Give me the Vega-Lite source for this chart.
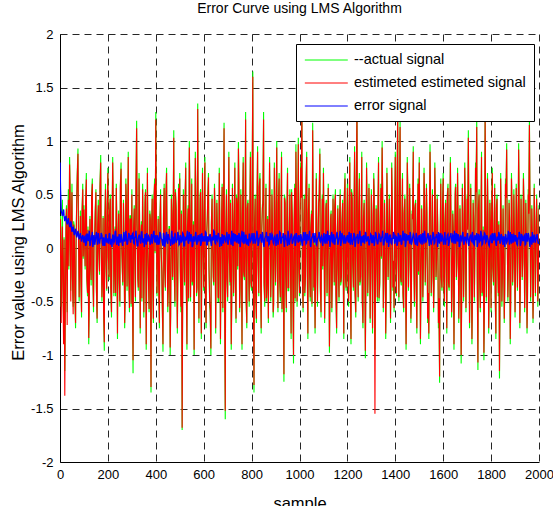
{
"$schema":"https://vega.github.io/schema/vega-lite/v6.json",
"width":479,"height":428,
"autosize":{"type":"none"},
"padding":{"left":60,"top":34,"right":14,"bottom":44},
"background":"white",
"title":{"text":"Error Curve using LMS Algorithm","font":"Liberation Sans","fontSize":14,"fontWeight":"normal","color":"black","offset":12,"anchor":"middle"},
"data":{"values":[
{"s":0,"a":0.05,"r":-0.1,"e":0.8},{"s":5,"a":-0.55,"r":-0.7,"e":0.35},{"s":10,"a":0.45,"r":0.2,"e":0.3},{"s":15,"a":-0.7,"r":-0.9,"e":0.36},{"s":20,"a":-1.15,"r":-1.38,"e":0.25},{"s":25,"a":0.3,"r":0.15,"e":0.3},{"s":30,"a":-0.6,"r":-0.72,"e":0.22},{"s":35,"a":0.55,"r":0.45,"e":0.28},{"s":40,"a":0.85,"r":0.78,"e":0.2},{"s":45,"a":-0.4,"r":-0.5,"e":0.25},{"s":50,"a":0.6,"r":0.52,"e":0.15},{"s":55,"a":-0.55,"r":-0.62,"e":0.2},{"s":60,"a":0.2,"r":0.12,"e":0.12},{"s":65,"a":-0.75,"r":-0.7,"e":0.18},{"s":70,"a":0.5,"r":0.45,"e":0.1},{"s":75,"a":0.93,"r":0.88,"e":0.16},{"s":80,"a":-0.5,"r":-0.46,"e":0.08},{"s":85,"a":0.35,"r":0.3,"e":0.14},{"s":90,"a":-0.65,"r":-0.6,"e":0.06},{"s":95,"a":0.6,"r":0.55,"e":0.12},
{"s":100,"a":0.4,"r":0.36,"e":0.05},{"s":105,"a":-0.2,"r":-0.17,"e":0.11},{"s":110,"a":0.7,"r":0.64,"e":0.04},{"s":115,"a":-0.45,"r":-0.42,"e":0.13},{"s":120,"a":-0.9,"r":-0.84,"e":0.07},{"s":125,"a":0.3,"r":0.27,"e":0.02},{"s":130,"a":-0.35,"r":-0.3,"e":0.1},{"s":135,"a":0.65,"r":0.6,"e":0.15},{"s":140,"a":-0.6,"r":-0.55,"e":0.06},{"s":145,"a":0.15,"r":0.12,"e":0.03},{"s":150,"a":0.55,"r":0.52,"e":0.12},{"s":155,"a":-0.7,"r":-0.66,"e":0.08},{"s":160,"a":0.45,"r":0.4,"e":0.14},{"s":165,"a":-0.25,"r":-0.22,"e":0.04},{"s":170,"a":0.87,"r":0.8,"e":0.09},{"s":175,"a":-0.5,"r":-0.46,"e":0.12},{"s":180,"a":0.3,"r":0.28,"e":0.02},{"s":185,"a":-0.96,"r":-0.88,"e":0.07},{"s":190,"a":0.6,"r":0.55,"e":0.11},{"s":195,"a":-0.4,"r":-0.38,"e":0.05},
{"s":200,"a":0.75,"r":0.7,"e":0.09},{"s":205,"a":-0.3,"r":-0.27,"e":0.13},{"s":210,"a":0.5,"r":0.46,"e":0.03},{"s":215,"a":-0.65,"r":-0.6,"e":0.08},{"s":220,"a":0.85,"r":0.8,"e":0.12},{"s":225,"a":-0.45,"r":-0.42,"e":0.05},{"s":230,"a":0.2,"r":0.18,"e":0.15},{"s":235,"a":0.6,"r":0.56,"e":0.06},{"s":240,"a":-0.85,"r":-0.8,"e":0.1},{"s":245,"a":0.35,"r":0.32,"e":0.02},{"s":250,"a":-0.55,"r":-0.5,"e":0.07},{"s":255,"a":0.8,"r":0.74,"e":0.13},{"s":260,"a":-0.2,"r":-0.18,"e":0.04},{"s":265,"a":0.45,"r":0.42,"e":0.11},{"s":270,"a":-0.75,"r":-0.7,"e":0.06},{"s":275,"a":0.65,"r":0.6,"e":0.16},{"s":280,"a":-0.4,"r":-0.36,"e":0.03},{"s":285,"a":0.9,"r":0.85,"e":0.09},{"s":290,"a":-0.6,"r":-0.56,"e":0.12},{"s":295,"a":0.3,"r":0.27,"e":0.05},
{"s":300,"a":0.55,"r":0.5,"e":0.08},{"s":305,"a":-1.17,"r":-1.05,"e":0.14},{"s":310,"a":0.4,"r":0.37,"e":0.04},{"s":315,"a":-0.5,"r":-0.46,"e":0.1},{"s":320,"a":1.19,"r":1.12,"e":0.07},{"s":325,"a":-0.3,"r":-0.28,"e":0.02},{"s":330,"a":0.7,"r":0.65,"e":0.12},{"s":335,"a":-0.8,"r":-0.75,"e":0.06},{"s":340,"a":0.25,"r":0.22,"e":0.15},{"s":345,"a":0.6,"r":0.55,"e":0.05},{"s":350,"a":-0.65,"r":-0.6,"e":0.09},{"s":355,"a":0.45,"r":0.42,"e":0.13},{"s":360,"a":-0.95,"r":-0.9,"e":0.03},{"s":365,"a":0.75,"r":0.7,"e":0.08},{"s":370,"a":-0.4,"r":-0.37,"e":0.11},{"s":375,"a":0.35,"r":0.32,"e":0.06},{"s":380,"a":-1.35,"r":-1.3,"e":0.1},{"s":385,"a":0.5,"r":0.46,"e":0.04},{"s":390,"a":-0.7,"r":-0.66,"e":0.14},{"s":395,"a":0.65,"r":0.6,"e":0.07},
{"s":400,"a":1.27,"r":1.2,"e":0.12},{"s":405,"a":-0.45,"r":-0.42,"e":0.03},{"s":410,"a":0.3,"r":0.27,"e":0.09},{"s":415,"a":-0.75,"r":-0.7,"e":0.05},{"s":420,"a":0.55,"r":0.5,"e":0.13},{"s":425,"a":-0.25,"r":-0.22,"e":0.08},{"s":430,"a":-0.97,"r":-0.9,"e":0.02},{"s":435,"a":0.6,"r":0.56,"e":0.11},{"s":440,"a":-0.4,"r":-0.37,"e":0.06},{"s":445,"a":0.75,"r":0.7,"e":0.15},{"s":450,"a":-0.6,"r":-0.55,"e":0.04},{"s":455,"a":0.2,"r":0.18,"e":0.1},{"s":460,"a":-1.0,"r":-0.93,"e":0.07},{"s":465,"a":0.5,"r":0.46,"e":0.12},{"s":470,"a":-0.3,"r":-0.27,"e":0.03},{"s":475,"a":1.1,"r":1.03,"e":0.09},{"s":480,"a":-0.55,"r":-0.5,"e":0.14},{"s":485,"a":0.4,"r":0.37,"e":0.05},{"s":490,"a":-0.8,"r":-0.75,"e":0.08},{"s":495,"a":0.6,"r":0.56,"e":0.11},
{"s":500,"a":0.7,"r":0.65,"e":0.04},{"s":505,"a":-0.6,"r":-0.55,"e":0.1},{"s":510,"a":-1.7,"r":-1.68,"e":0.07},{"s":515,"a":0.55,"r":0.5,"e":0.13},{"s":520,"a":-0.35,"r":-0.32,"e":0.02},{"s":525,"a":0.8,"r":0.75,"e":0.09},{"s":530,"a":-0.95,"r":-0.9,"e":0.12},{"s":535,"a":0.4,"r":0.37,"e":0.05},{"s":540,"a":1.0,"r":0.94,"e":0.15},{"s":545,"a":-0.5,"r":-0.46,"e":0.06},{"s":550,"a":0.65,"r":0.6,"e":0.1},{"s":555,"a":-0.3,"r":-0.27,"e":0.03},{"s":560,"a":-1.0,"r":-0.95,"e":0.08},{"s":565,"a":0.9,"r":0.84,"e":0.12},{"s":570,"a":-0.45,"r":-0.42,"e":0.05},{"s":575,"a":1.35,"r":1.3,"e":0.1},{"s":580,"a":-0.7,"r":-0.66,"e":0.07},{"s":585,"a":0.5,"r":0.46,"e":0.13},{"s":590,"a":-0.85,"r":-0.8,"e":0.04},{"s":595,"a":0.75,"r":0.7,"e":0.09},
{"s":600,"a":-0.4,"r":-0.37,"e":0.11},{"s":605,"a":0.85,"r":0.8,"e":0.06},{"s":610,"a":-0.75,"r":-0.7,"e":0.14},{"s":615,"a":0.3,"r":0.27,"e":0.03},{"s":620,"a":0.7,"r":0.66,"e":0.09},{"s":625,"a":-0.55,"r":-0.5,"e":0.12},{"s":630,"a":-1.0,"r":-0.94,"e":0.05},{"s":635,"a":0.5,"r":0.46,"e":0.1},{"s":640,"a":-0.3,"r":-0.27,"e":0.07},{"s":645,"a":0.6,"r":0.56,"e":0.15},{"s":650,"a":-0.8,"r":-0.75,"e":0.04},{"s":655,"a":0.45,"r":0.42,"e":0.08},{"s":660,"a":-0.5,"r":-0.46,"e":0.13},{"s":665,"a":0.75,"r":0.7,"e":0.06},{"s":670,"a":-0.9,"r":-0.85,"e":0.1},{"s":675,"a":0.35,"r":0.32,"e":0.02},{"s":680,"a":-0.6,"r":-0.56,"e":0.09},{"s":685,"a":1.17,"r":1.12,"e":0.12},{"s":690,"a":-1.6,"r":-1.52,"e":0.07},{"s":695,"a":0.55,"r":0.5,"e":0.11},
{"s":700,"a":-0.5,"r":-0.46,"e":0.05},{"s":705,"a":0.9,"r":0.85,"e":0.13},{"s":710,"a":-0.35,"r":-0.32,"e":0.08},{"s":715,"a":-0.95,"r":-0.9,"e":0.03},{"s":720,"a":0.6,"r":0.56,"e":0.1},{"s":725,"a":-0.45,"r":-0.42,"e":0.14},{"s":730,"a":0.8,"r":0.75,"e":0.06},{"s":735,"a":-0.7,"r":-0.66,"e":0.09},{"s":740,"a":0.4,"r":0.37,"e":0.12},{"s":745,"a":0.99,"r":0.93,"e":0.04},{"s":750,"a":-0.6,"r":-0.56,"e":0.11},{"s":755,"a":0.55,"r":0.5,"e":0.07},{"s":760,"a":-0.95,"r":-0.9,"e":0.16},{"s":765,"a":0.85,"r":0.8,"e":0.05},{"s":770,"a":-0.3,"r":-0.27,"e":0.09},{"s":775,"a":1.27,"r":1.2,"e":0.12},{"s":780,"a":-0.75,"r":-0.7,"e":0.03},{"s":785,"a":0.45,"r":0.42,"e":0.08},{"s":790,"a":-0.55,"r":-0.5,"e":0.13},{"s":795,"a":0.9,"r":0.85,"e":0.06},
{"s":800,"a":-0.4,"r":-0.37,"e":0.1},{"s":805,"a":1.65,"r":1.6,"e":0.07},{"s":810,"a":-1.35,"r":-1.28,"e":0.14},{"s":815,"a":0.5,"r":0.46,"e":0.04},{"s":820,"a":-0.7,"r":-0.66,"e":0.09},{"s":825,"a":0.95,"r":0.9,"e":0.12},{"s":830,"a":-0.45,"r":-0.42,"e":0.05},{"s":835,"a":0.7,"r":0.65,"e":0.1},{"s":840,"a":-0.8,"r":-0.75,"e":0.07},{"s":845,"a":0.4,"r":0.37,"e":0.15},{"s":850,"a":1.27,"r":1.2,"e":0.03},{"s":855,"a":-0.55,"r":-0.5,"e":0.09},{"s":860,"a":0.6,"r":0.56,"e":0.12},{"s":865,"a":-0.3,"r":-0.27,"e":0.06},{"s":870,"a":-0.7,"r":-0.66,"e":0.11},{"s":875,"a":0.85,"r":0.8,"e":0.04},{"s":880,"a":-0.5,"r":-0.46,"e":0.08},{"s":885,"a":0.55,"r":0.5,"e":0.13},{"s":890,"a":-0.65,"r":-0.6,"e":0.05},{"s":895,"a":0.8,"r":0.75,"e":0.1},
{"s":900,"a":-0.35,"r":-0.32,"e":0.07},{"s":905,"a":1.0,"r":0.94,"e":0.12},{"s":910,"a":-0.6,"r":-0.56,"e":0.03},{"s":915,"a":0.7,"r":0.65,"e":0.09},{"s":920,"a":-0.5,"r":-0.46,"e":0.14},{"s":925,"a":0.9,"r":0.85,"e":0.06},{"s":930,"a":-0.3,"r":-0.27,"e":0.1},{"s":935,"a":-1.25,"r":-1.18,"e":0.05},{"s":940,"a":0.45,"r":0.42,"e":0.12},{"s":945,"a":-0.6,"r":-0.56,"e":0.08},{"s":950,"a":0.75,"r":0.7,"e":0.02},{"s":955,"a":-0.4,"r":-0.37,"e":0.11},{"s":960,"a":0.55,"r":0.5,"e":0.07},{"s":965,"a":-0.85,"r":-0.8,"e":0.13},{"s":970,"a":0.3,"r":0.27,"e":0.04},{"s":975,"a":-1.08,"r":-1.0,"e":0.09},{"s":980,"a":0.6,"r":0.56,"e":0.12},{"s":985,"a":0.97,"r":0.9,"e":0.06},{"s":990,"a":-0.55,"r":-0.5,"e":0.1},{"s":995,"a":1.03,"r":0.97,"e":0.05},
{"s":1000,"a":-0.45,"r":-0.42,"e":0.08},{"s":1005,"a":0.8,"r":0.75,"e":0.13},{"s":1010,"a":1.4,"r":1.33,"e":0.04},{"s":1015,"a":-0.6,"r":-0.56,"e":0.1},{"s":1020,"a":0.5,"r":0.46,"e":0.07},{"s":1025,"a":-0.3,"r":-0.27,"e":0.15},{"s":1030,"a":0.9,"r":0.85,"e":0.05},{"s":1035,"a":-0.85,"r":-0.8,"e":0.09},{"s":1040,"a":0.6,"r":0.56,"e":0.12},{"s":1045,"a":-0.5,"r":-0.46,"e":0.03},{"s":1050,"a":0.35,"r":0.32,"e":0.08},{"s":1055,"a":1.17,"r":1.1,"e":0.11},{"s":1060,"a":-0.4,"r":-0.37,"e":0.06},{"s":1065,"a":-0.8,"r":-0.75,"e":0.14},{"s":1070,"a":0.7,"r":0.65,"e":0.04},{"s":1075,"a":-0.55,"r":-0.5,"e":0.09},{"s":1080,"a":0.45,"r":0.42,"e":0.12},{"s":1085,"a":0.93,"r":0.88,"e":0.07},{"s":1090,"a":-0.65,"r":-0.6,"e":0.1},{"s":1095,"a":0.5,"r":0.46,"e":0.05},
{"s":1100,"a":0.75,"r":0.7,"e":0.11},{"s":1105,"a":-0.7,"r":-0.66,"e":0.06},{"s":1110,"a":0.4,"r":0.37,"e":0.13},{"s":1115,"a":-0.45,"r":-0.42,"e":0.04},{"s":1120,"a":0.6,"r":0.56,"e":0.09},{"s":1125,"a":-0.98,"r":-0.92,"e":0.12},{"s":1130,"a":0.3,"r":0.27,"e":0.07},{"s":1135,"a":-0.6,"r":-0.56,"e":0.15},{"s":1140,"a":0.5,"r":0.46,"e":0.05},{"s":1145,"a":-0.35,"r":-0.32,"e":0.1},{"s":1150,"a":0.55,"r":0.5,"e":0.08},{"s":1155,"a":-0.8,"r":-0.75,"e":0.13},{"s":1160,"a":0.4,"r":0.37,"e":0.03},{"s":1165,"a":-0.5,"r":-0.46,"e":0.09},{"s":1170,"a":0.55,"r":0.5,"e":0.16},{"s":1175,"a":-0.3,"r":-0.27,"e":0.06},{"s":1180,"a":0.45,"r":0.42,"e":0.11},{"s":1185,"a":-0.85,"r":-0.8,"e":0.04},{"s":1190,"a":0.7,"r":0.65,"e":0.1},{"s":1195,"a":-0.4,"r":-0.37,"e":0.07},
{"s":1200,"a":0.6,"r":0.56,"e":0.12},{"s":1205,"a":-0.55,"r":-0.5,"e":0.05},{"s":1210,"a":0.85,"r":0.8,"e":0.09},{"s":1215,"a":-0.9,"r":-0.85,"e":0.14},{"s":1220,"a":0.5,"r":0.46,"e":0.03},{"s":1225,"a":-0.4,"r":-0.37,"e":0.08},{"s":1230,"a":0.95,"r":0.9,"e":0.12},{"s":1235,"a":-0.65,"r":-0.6,"e":0.06},{"s":1240,"a":1.4,"r":1.33,"e":0.1},{"s":1245,"a":-0.5,"r":-0.46,"e":0.04},{"s":1250,"a":0.7,"r":0.65,"e":0.13},{"s":1255,"a":-0.3,"r":-0.27,"e":0.07},{"s":1260,"a":0.9,"r":0.85,"e":0.11},{"s":1265,"a":-0.75,"r":-0.7,"e":0.05},{"s":1270,"a":0.45,"r":0.42,"e":0.09},{"s":1275,"a":-1.03,"r":-0.96,"e":0.15},{"s":1280,"a":0.8,"r":0.75,"e":0.06},{"s":1285,"a":-0.45,"r":-0.42,"e":0.1},{"s":1290,"a":0.6,"r":0.56,"e":0.03},{"s":1295,"a":-0.7,"r":-0.66,"e":0.08},
{"s":1300,"a":0.55,"r":0.5,"e":0.12},{"s":1305,"a":-0.8,"r":-0.75,"e":0.05},{"s":1310,"a":0.7,"r":0.65,"e":0.1},{"s":1315,"a":-0.95,"r":-1.55,"e":0.07},{"s":1320,"a":0.4,"r":0.37,"e":0.13},{"s":1325,"a":-0.5,"r":-0.46,"e":0.04},{"s":1330,"a":0.85,"r":0.8,"e":0.09},{"s":1335,"a":-0.35,"r":-0.32,"e":0.12},{"s":1340,"a":0.6,"r":0.56,"e":0.06},{"s":1345,"a":1.0,"r":0.94,"e":0.1},{"s":1350,"a":-0.6,"r":-0.56,"e":0.03},{"s":1355,"a":0.45,"r":0.42,"e":0.08},{"s":1360,"a":-0.85,"r":-0.8,"e":0.14},{"s":1365,"a":0.75,"r":0.7,"e":0.05},{"s":1370,"a":-0.3,"r":-0.27,"e":0.11},{"s":1375,"a":0.5,"r":0.46,"e":0.07},{"s":1380,"a":-0.7,"r":-0.66,"e":0.12},{"s":1385,"a":0.8,"r":0.75,"e":0.04},{"s":1390,"a":-0.4,"r":-0.37,"e":0.09},{"s":1395,"a":-0.6,"r":-0.56,"e":0.13},
{"s":1400,"a":0.9,"r":0.85,"e":0.06},{"s":1405,"a":-0.45,"r":-0.42,"e":0.1},{"s":1410,"a":1.3,"r":1.24,"e":0.05},{"s":1415,"a":-0.5,"r":-0.46,"e":0.12},{"s":1420,"a":1.2,"r":1.13,"e":0.08},{"s":1425,"a":-0.35,"r":-0.32,"e":0.03},{"s":1430,"a":0.7,"r":0.65,"e":0.11},{"s":1435,"a":-0.6,"r":-0.56,"e":0.07},{"s":1440,"a":0.5,"r":0.46,"e":0.14},{"s":1445,"a":-0.95,"r":-0.9,"e":0.05},{"s":1450,"a":0.85,"r":0.8,"e":0.09},{"s":1455,"a":-0.4,"r":-0.37,"e":0.12},{"s":1460,"a":0.6,"r":0.56,"e":0.04},{"s":1465,"a":-0.7,"r":-0.66,"e":0.1},{"s":1470,"a":0.35,"r":0.32,"e":0.06},{"s":1475,"a":0.95,"r":0.9,"e":0.13},{"s":1480,"a":-0.55,"r":-0.5,"e":0.08},{"s":1485,"a":0.45,"r":0.42,"e":0.03},{"s":1490,"a":-0.8,"r":-0.75,"e":0.11},{"s":1495,"a":0.65,"r":0.6,"e":0.07},
{"s":1500,"a":0.85,"r":0.8,"e":0.12},{"s":1505,"a":-0.9,"r":-0.85,"e":0.05},{"s":1510,"a":0.4,"r":0.37,"e":0.09},{"s":1515,"a":-0.5,"r":-0.46,"e":0.14},{"s":1520,"a":0.75,"r":0.7,"e":0.04},{"s":1525,"a":-0.35,"r":-0.32,"e":0.1},{"s":1530,"a":0.6,"r":0.56,"e":0.07},{"s":1535,"a":-0.7,"r":-0.66,"e":0.12},{"s":1540,"a":-0.85,"r":-0.8,"e":0.06},{"s":1545,"a":0.97,"r":0.9,"e":0.11},{"s":1550,"a":-0.45,"r":-0.42,"e":0.03},{"s":1555,"a":0.55,"r":0.5,"e":0.08},{"s":1560,"a":-0.6,"r":-0.56,"e":0.13},{"s":1565,"a":0.8,"r":0.75,"e":0.05},{"s":1570,"a":-0.3,"r":-0.27,"e":0.1},{"s":1575,"a":0.5,"r":0.46,"e":0.07},{"s":1580,"a":-0.75,"r":-0.7,"e":0.15},{"s":1585,"a":-1.26,"r":-1.2,"e":0.04},{"s":1590,"a":0.65,"r":0.6,"e":0.09},{"s":1595,"a":-0.4,"r":-0.37,"e":0.12},
{"s":1600,"a":0.7,"r":0.65,"e":0.06},{"s":1605,"a":-0.55,"r":-0.5,"e":0.1},{"s":1610,"a":0.45,"r":0.42,"e":0.03},{"s":1615,"a":-0.8,"r":-0.75,"e":0.08},{"s":1620,"a":0.6,"r":0.56,"e":0.13},{"s":1625,"a":-0.4,"r":-0.37,"e":0.05},{"s":1630,"a":0.85,"r":0.8,"e":0.11},{"s":1635,"a":-0.65,"r":-0.6,"e":0.07},{"s":1640,"a":0.35,"r":0.32,"e":0.12},{"s":1645,"a":-0.95,"r":-0.9,"e":0.04},{"s":1650,"a":0.55,"r":0.5,"e":0.09},{"s":1655,"a":-0.3,"r":-0.27,"e":0.14},{"s":1660,"a":0.75,"r":0.7,"e":0.06},{"s":1665,"a":-0.7,"r":-0.66,"e":0.1},{"s":1670,"a":0.4,"r":0.37,"e":0.03},{"s":1675,"a":-1.08,"r":-1.0,"e":0.08},{"s":1680,"a":0.6,"r":0.56,"e":0.12},{"s":1685,"a":-0.5,"r":-0.46,"e":0.05},{"s":1690,"a":0.8,"r":0.75,"e":0.1},{"s":1695,"a":-0.6,"r":-0.56,"e":0.07},
{"s":1700,"a":0.5,"r":0.46,"e":0.13},{"s":1705,"a":1.1,"r":1.03,"e":0.04},{"s":1710,"a":-0.75,"r":-0.7,"e":0.09},{"s":1715,"a":0.6,"r":0.56,"e":0.12},{"s":1720,"a":-0.9,"r":-0.85,"e":0.06},{"s":1725,"a":0.45,"r":0.42,"e":0.1},{"s":1730,"a":-0.5,"r":-0.46,"e":0.03},{"s":1735,"a":0.8,"r":0.75,"e":0.08},{"s":1740,"a":1.2,"r":1.13,"e":0.14},{"s":1745,"a":-1.14,"r":-1.07,"e":0.05},{"s":1750,"a":0.55,"r":0.5,"e":0.11},{"s":1755,"a":-0.6,"r":-0.56,"e":0.07},{"s":1760,"a":0.9,"r":0.85,"e":0.12},{"s":1765,"a":-0.4,"r":-0.37,"e":0.04},{"s":1770,"a":-1.05,"r":-0.98,"e":0.09},{"s":1775,"a":1.3,"r":1.23,"e":0.13},{"s":1780,"a":-0.5,"r":-0.46,"e":0.06},{"s":1785,"a":0.7,"r":0.65,"e":0.1},{"s":1790,"a":-0.8,"r":-0.75,"e":0.03},{"s":1795,"a":0.45,"r":0.42,"e":0.08},
{"s":1800,"a":-0.6,"r":-0.56,"e":0.12},{"s":1805,"a":0.75,"r":0.7,"e":0.05},{"s":1810,"a":-0.35,"r":-0.32,"e":0.09},{"s":1815,"a":0.6,"r":0.56,"e":0.14},{"s":1820,"a":-0.85,"r":-0.8,"e":0.04},{"s":1825,"a":0.5,"r":0.46,"e":0.1},{"s":1830,"a":-0.45,"r":-0.42,"e":0.07},{"s":1835,"a":-1.22,"r":-1.15,"e":0.12},{"s":1840,"a":0.7,"r":0.65,"e":0.06},{"s":1845,"a":-0.55,"r":-0.5,"e":0.11},{"s":1850,"a":0.4,"r":0.37,"e":0.03},{"s":1855,"a":-0.7,"r":-0.66,"e":0.08},{"s":1860,"a":0.65,"r":0.6,"e":0.13},{"s":1865,"a":0.98,"r":0.92,"e":0.05},{"s":1870,"a":-0.5,"r":-0.46,"e":0.1},{"s":1875,"a":0.45,"r":0.42,"e":0.07},{"s":1880,"a":-0.9,"r":-0.85,"e":0.15},{"s":1885,"a":0.7,"r":0.65,"e":0.04},{"s":1890,"a":-0.35,"r":-0.32,"e":0.09},{"s":1895,"a":0.55,"r":0.5,"e":0.12},
{"s":1900,"a":-0.65,"r":-0.6,"e":0.06},{"s":1905,"a":0.6,"r":0.56,"e":0.1},{"s":1910,"a":-0.4,"r":-0.37,"e":0.03},{"s":1915,"a":0.98,"r":0.92,"e":0.08},{"s":1920,"a":-0.75,"r":-0.7,"e":0.13},{"s":1925,"a":0.5,"r":0.46,"e":0.05},{"s":1930,"a":-0.3,"r":-0.27,"e":0.11},{"s":1935,"a":0.7,"r":0.65,"e":0.07},{"s":1940,"a":-0.6,"r":-0.56,"e":0.12},{"s":1945,"a":0.45,"r":0.42,"e":0.04},{"s":1950,"a":-0.8,"r":-0.75,"e":0.09},{"s":1955,"a":0.55,"r":0.5,"e":0.14},{"s":1960,"a":1.22,"r":1.15,"e":0.06},{"s":1965,"a":-0.5,"r":-0.46,"e":0.1},{"s":1970,"a":0.4,"r":0.37,"e":0.03},{"s":1975,"a":-0.7,"r":-0.66,"e":0.08},{"s":1980,"a":0.6,"r":0.56,"e":0.12},{"s":1985,"a":-0.45,"r":-0.42,"e":0.05},{"s":1990,"a":0.5,"r":0.46,"e":0.1},{"s":1995,"a":-0.55,"r":-0.5,"e":0.07},{"s":2000,"a":0.4,"r":0.37,"e":0.06},
{"s":2,"a":0.3,"r":0.27,"e":0.55},{"s":7,"a":-0.2,"r":-0.17,"e":0.33},{"s":12,"a":-0.35,"r":-0.32,"e":0.32},{"s":17,"a":0.1,"r":0.08,"e":0.3},{"s":22,"a":-0.6,"r":-0.57,"e":0.28},{"s":27,"a":0.4,"r":0.37,"e":0.26},{"s":32,"a":0.1,"r":0.08,"e":0.25},{"s":37,"a":-0.2,"r":-0.17,"e":0.24},{"s":42,"a":0.6,"r":0.57,"e":0.2},{"s":47,"a":0.15,"r":0.12,"e":0.22},{"s":52,"a":-0.3,"r":-0.27,"e":0.18},{"s":57,"a":0.25,"r":0.22,"e":0.16},{"s":62,"a":-0.45,"r":-0.42,"e":0.15},{"s":67,"a":0.05,"r":0.03,"e":0.14},{"s":72,"a":0.7,"r":0.67,"e":0.12},{"s":77,"a":0.2,"r":0.17,"e":0.13},{"s":82,"a":-0.15,"r":-0.12,"e":0.1},{"s":87,"a":-0.3,"r":-0.27,"e":0.11},{"s":92,"a":0.35,"r":0.32,"e":0.09},{"s":97,"a":-0.1,"r":-0.08,"e":0.1},
{"s":102,"a":0.15,"r":0.12,"e":0.1},{"s":107,"a":0.45,"r":0.42,"e":0.02},{"s":112,"a":-0.3,"r":-0.27,"e":0.13},{"s":117,"a":0.2,"r":0.17,"e":0.07},{"s":122,"a":-0.55,"r":-0.52,"e":0.16},{"s":127,"a":-0.1,"r":-0.08,"e":0.04},{"s":132,"a":0.5,"r":0.47,"e":0.09},{"s":137,"a":-0.25,"r":-0.22,"e":0.01},{"s":142,"a":0.05,"r":0.03,"e":0.12},{"s":147,"a":0.35,"r":0.32,"e":0.06},{"s":152,"a":-0.4,"r":-0.37,"e":0.15},{"s":157,"a":0.2,"r":0.17,"e":0.03},{"s":162,"a":-0.05,"r":-0.03,"e":0.11},{"s":167,"a":0.6,"r":0.57,"e":0.08},{"s":172,"a":0.1,"r":0.08,"e":0.14},{"s":177,"a":-0.3,"r":-0.27,"e":0.05},{"s":182,"a":-0.6,"r":-0.57,"e":0.1},{"s":187,"a":0.25,"r":0.22,"e":0.02},{"s":192,"a":-0.15,"r":-0.12,"e":0.13},{"s":197,"a":0.4,"r":0.37,"e":0.07},
{"s":202,"a":-0.1,"r":-0.08,"e":0.04},{"s":207,"a":0.35,"r":0.32,"e":0.14},{"s":212,"a":-0.4,"r":-0.37,"e":0.08},{"s":217,"a":0.15,"r":0.12,"e":0.01},{"s":222,"a":0.5,"r":0.47,"e":0.12},{"s":227,"a":-0.2,"r":-0.17,"e":0.06},{"s":232,"a":-0.45,"r":-0.42,"e":0.16},{"s":237,"a":0.3,"r":0.27,"e":0.03},{"s":242,"a":0.05,"r":0.03,"e":0.1},{"s":247,"a":-0.3,"r":-0.27,"e":0.13},{"s":252,"a":0.6,"r":0.57,"e":0.05},{"s":257,"a":0.1,"r":0.08,"e":0.09},{"s":262,"a":-0.35,"r":-0.32,"e":0.02},{"s":267,"a":0.2,"r":0.17,"e":0.15},{"s":272,"a":-0.5,"r":-0.47,"e":0.07},{"s":277,"a":0.45,"r":0.42,"e":0.11},{"s":282,"a":0.15,"r":0.12,"e":0.04},{"s":287,"a":-0.25,"r":-0.22,"e":0.14},{"s":292,"a":0.3,"r":0.27,"e":0.08},{"s":297,"a":-0.55,"r":-0.52,"e":0.12},
{"s":302,"a":-0.3,"r":-0.27,"e":0.13},{"s":307,"a":0.2,"r":0.17,"e":0.05},{"s":312,"a":-0.1,"r":-0.08,"e":0.1},{"s":317,"a":0.6,"r":0.57,"e":0.16},{"s":322,"a":0.25,"r":0.22,"e":0.02},{"s":327,"a":-0.4,"r":-0.37,"e":0.09},{"s":332,"a":0.35,"r":0.32,"e":0.12},{"s":337,"a":0.1,"r":0.08,"e":0.04},{"s":342,"a":-0.5,"r":-0.47,"e":0.15},{"s":347,"a":0.2,"r":0.17,"e":0.07},{"s":352,"a":-0.15,"r":-0.12,"e":0.01},{"s":357,"a":0.55,"r":0.52,"e":0.11},{"s":362,"a":-0.3,"r":-0.27,"e":0.14},{"s":367,"a":0.05,"r":0.03,"e":0.06},{"s":372,"a":-0.6,"r":-0.57,"e":0.1},{"s":377,"a":0.3,"r":0.27,"e":0.03},{"s":382,"a":0.15,"r":0.12,"e":0.13},{"s":387,"a":-0.35,"r":-0.32,"e":0.08},{"s":392,"a":0.45,"r":0.42,"e":0.16},{"s":397,"a":-0.05,"r":-0.03,"e":0.05},
{"s":402,"a":0.4,"r":0.37,"e":0.07},{"s":407,"a":-0.1,"r":-0.08,"e":0.12},{"s":412,"a":-0.35,"r":-0.32,"e":0.03},{"s":417,"a":0.25,"r":0.22,"e":0.15},{"s":422,"a":0.05,"r":0.03,"e":0.09},{"s":427,"a":-0.55,"r":-0.52,"e":0.05},{"s":432,"a":0.3,"r":0.27,"e":0.14},{"s":437,"a":-0.2,"r":-0.17,"e":0.01},{"s":442,"a":0.5,"r":0.47,"e":0.11},{"s":447,"a":0.1,"r":0.08,"e":0.06},{"s":452,"a":-0.4,"r":-0.37,"e":0.13},{"s":457,"a":0.2,"r":0.17,"e":0.08},{"s":462,"a":-0.65,"r":-0.62,"e":0.02},{"s":467,"a":0.35,"r":0.32,"e":0.16},{"s":472,"a":0.15,"r":0.12,"e":0.1},{"s":477,"a":-0.25,"r":-0.22,"e":0.04},{"s":482,"a":0.55,"r":0.52,"e":0.12},{"s":487,"a":-0.1,"r":-0.08,"e":0.07},{"s":492,"a":-0.3,"r":-0.27,"e":0.15},{"s":497,"a":0.2,"r":0.17,"e":0.03},
{"s":502,"a":-0.2,"r":-0.17,"e":0.12},{"s":507,"a":0.35,"r":0.32,"e":0.05},{"s":512,"a":-0.6,"r":-0.57,"e":0.14},{"s":517,"a":0.1,"r":0.08,"e":0.02},{"s":522,"a":0.45,"r":0.42,"e":0.1},{"s":527,"a":-0.3,"r":-0.27,"e":0.07},{"s":532,"a":0.2,"r":0.17,"e":0.16},{"s":537,"a":-0.5,"r":-0.47,"e":0.04},{"s":542,"a":0.6,"r":0.57,"e":0.09},{"s":547,"a":0.05,"r":0.03,"e":0.13},{"s":552,"a":-0.35,"r":-0.32,"e":0.01},{"s":557,"a":0.25,"r":0.22,"e":0.11},{"s":562,"a":-0.15,"r":-0.12,"e":0.06},{"s":567,"a":0.5,"r":0.47,"e":0.15},{"s":572,"a":-0.4,"r":-0.37,"e":0.03},{"s":577,"a":0.3,"r":0.27,"e":0.12},{"s":582,"a":-0.1,"r":-0.08,"e":0.08},{"s":587,"a":0.55,"r":0.52,"e":0.02},{"s":592,"a":-0.25,"r":-0.22,"e":0.14},{"s":597,"a":0.15,"r":0.12,"e":0.06},
{"s":602,"a":0.3,"r":0.27,"e":0.09},{"s":607,"a":-0.45,"r":-0.42,"e":0.15},{"s":612,"a":0.1,"r":0.08,"e":0.03},{"s":617,"a":0.5,"r":0.47,"e":0.11},{"s":622,"a":-0.2,"r":-0.17,"e":0.06},{"s":627,"a":-0.6,"r":-0.57,"e":0.13},{"s":632,"a":0.25,"r":0.22,"e":0.02},{"s":637,"a":0.05,"r":0.03,"e":0.1},{"s":642,"a":-0.35,"r":-0.32,"e":0.16},{"s":647,"a":0.4,"r":0.37,"e":0.05},{"s":652,"a":-0.1,"r":-0.08,"e":0.12},{"s":657,"a":0.2,"r":0.17,"e":0.07},{"s":662,"a":-0.5,"r":-0.47,"e":0.14},{"s":667,"a":0.35,"r":0.32,"e":0.01},{"s":672,"a":-0.25,"r":-0.22,"e":0.09},{"s":677,"a":0.6,"r":0.57,"e":0.13},{"s":682,"a":0.1,"r":0.08,"e":0.04},{"s":687,"a":-0.4,"r":-0.37,"e":0.11},{"s":692,"a":0.15,"r":0.12,"e":0.06},{"s":697,"a":-0.3,"r":-0.27,"e":0.15},
{"s":702,"a":0.2,"r":0.17,"e":0.03},{"s":707,"a":-0.1,"r":-0.08,"e":0.12},{"s":712,"a":0.45,"r":0.42,"e":0.07},{"s":717,"a":-0.55,"r":-0.52,"e":0.16},{"s":722,"a":0.3,"r":0.27,"e":0.02},{"s":727,"a":0.1,"r":0.08,"e":0.1},{"s":732,"a":-0.3,"r":-0.27,"e":0.13},{"s":737,"a":0.5,"r":0.47,"e":0.05},{"s":742,"a":-0.2,"r":-0.17,"e":0.09},{"s":747,"a":0.65,"r":0.62,"e":0.14},{"s":752,"a":-0.4,"r":-0.37,"e":0.01},{"s":757,"a":0.15,"r":0.12,"e":0.11},{"s":762,"a":0.35,"r":0.32,"e":0.06},{"s":767,"a":-0.25,"r":-0.22,"e":0.15},{"s":772,"a":0.05,"r":0.03,"e":0.04},{"s":777,"a":-0.5,"r":-0.47,"e":0.12},{"s":782,"a":0.4,"r":0.37,"e":0.08},{"s":787,"a":-0.15,"r":-0.12,"e":0.02},{"s":792,"a":0.25,"r":0.22,"e":0.13},{"s":797,"a":-0.35,"r":-0.32,"e":0.07},
{"s":802,"a":0.55,"r":0.52,"e":0.14},{"s":807,"a":-0.3,"r":-0.27,"e":0.04},{"s":812,"a":0.2,"r":0.17,"e":0.11},{"s":817,"a":-0.45,"r":-0.42,"e":0.06},{"s":822,"a":0.35,"r":0.32,"e":0.16},{"s":827,"a":-0.1,"r":-0.08,"e":0.02},{"s":832,"a":0.6,"r":0.57,"e":0.09},{"s":837,"a":-0.25,"r":-0.22,"e":0.13},{"s":842,"a":0.15,"r":0.12,"e":0.05},{"s":847,"a":0.45,"r":0.42,"e":0.12},{"s":852,"a":-0.35,"r":-0.32,"e":0.01},{"s":857,"a":0.1,"r":0.08,"e":0.1},{"s":862,"a":-0.5,"r":-0.47,"e":0.15},{"s":867,"a":0.3,"r":0.27,"e":0.07},{"s":872,"a":-0.05,"r":-0.03,"e":0.03},{"s":877,"a":0.4,"r":0.37,"e":0.14},{"s":882,"a":-0.2,"r":-0.17,"e":0.08},{"s":887,"a":0.25,"r":0.22,"e":0.12},{"s":892,"a":-0.55,"r":-0.52,"e":0.04},{"s":897,"a":0.1,"r":0.08,"e":0.11},
{"s":902,"a":0.35,"r":0.32,"e":0.02},{"s":907,"a":-0.15,"r":-0.12,"e":0.13},{"s":912,"a":0.45,"r":0.42,"e":0.06},{"s":917,"a":-0.3,"r":-0.27,"e":0.15},{"s":922,"a":0.2,"r":0.17,"e":0.04},{"s":927,"a":-0.6,"r":-0.57,"e":0.1},{"s":932,"a":0.1,"r":0.08,"e":0.14},{"s":937,"a":0.5,"r":0.47,"e":0.01},{"s":942,"a":-0.25,"r":-0.22,"e":0.12},{"s":947,"a":0.3,"r":0.27,"e":0.07},{"s":952,"a":-0.4,"r":-0.37,"e":0.16},{"s":957,"a":0.15,"r":0.12,"e":0.03},{"s":962,"a":-0.1,"r":-0.08,"e":0.09},{"s":967,"a":0.55,"r":0.52,"e":0.13},{"s":972,"a":-0.35,"r":-0.32,"e":0.05},{"s":977,"a":0.2,"r":0.17,"e":0.11},{"s":982,"a":-0.5,"r":-0.47,"e":0.02},{"s":987,"a":0.4,"r":0.37,"e":0.14},{"s":992,"a":0.05,"r":0.03,"e":0.08},{"s":997,"a":-0.2,"r":-0.17,"e":0.12},
{"s":1002,"a":0.25,"r":0.22,"e":0.06},{"s":1007,"a":0.5,"r":0.47,"e":0.11},{"s":1012,"a":-0.3,"r":-0.27,"e":0.02},{"s":1017,"a":0.15,"r":0.12,"e":0.15},{"s":1022,"a":-0.45,"r":-0.42,"e":0.08},{"s":1027,"a":0.6,"r":0.57,"e":0.04},{"s":1032,"a":-0.1,"r":-0.08,"e":0.13},{"s":1037,"a":0.35,"r":0.32,"e":0.07},{"s":1042,"a":-0.25,"r":-0.22,"e":0.16},{"s":1047,"a":0.2,"r":0.17,"e":0.01},{"s":1052,"a":-0.55,"r":-0.52,"e":0.1},{"s":1057,"a":0.4,"r":0.37,"e":0.14},{"s":1062,"a":0.05,"r":0.03,"e":0.05},{"s":1067,"a":-0.35,"r":-0.32,"e":0.12},{"s":1072,"a":0.3,"r":0.27,"e":0.03},{"s":1077,"a":-0.15,"r":-0.12,"e":0.09},{"s":1082,"a":0.5,"r":0.47,"e":0.15},{"s":1087,"a":-0.4,"r":-0.37,"e":0.06},{"s":1092,"a":0.1,"r":0.08,"e":0.11},{"s":1097,"a":-0.2,"r":-0.17,"e":0.02},
{"s":1102,"a":0.3,"r":0.27,"e":0.14},{"s":1107,"a":-0.25,"r":-0.22,"e":0.04},{"s":1112,"a":0.45,"r":0.42,"e":0.1},{"s":1117,"a":-0.1,"r":-0.08,"e":0.16},{"s":1122,"a":0.2,"r":0.17,"e":0.07},{"s":1127,"a":-0.5,"r":-0.47,"e":0.01},{"s":1132,"a":0.35,"r":0.32,"e":0.12},{"s":1137,"a":-0.3,"r":-0.27,"e":0.06},{"s":1142,"a":0.15,"r":0.12,"e":0.13},{"s":1147,"a":0.4,"r":0.37,"e":0.03},{"s":1152,"a":-0.45,"r":-0.42,"e":0.09},{"s":1157,"a":0.05,"r":0.03,"e":0.15},{"s":1162,"a":-0.2,"r":-0.17,"e":0.05},{"s":1167,"a":0.3,"r":0.27,"e":0.11},{"s":1172,"a":-0.35,"r":-0.32,"e":0.02},{"s":1177,"a":0.25,"r":0.22,"e":0.14},{"s":1182,"a":-0.1,"r":-0.08,"e":0.08},{"s":1187,"a":0.5,"r":0.47,"e":0.12},{"s":1192,"a":-0.3,"r":-0.27,"e":0.04},{"s":1197,"a":0.15,"r":0.12,"e":0.1},
{"s":1202,"a":-0.25,"r":-0.22,"e":0.07},{"s":1207,"a":0.4,"r":0.37,"e":0.15},{"s":1212,"a":-0.3,"r":-0.27,"e":0.03},{"s":1217,"a":0.55,"r":0.52,"e":0.11},{"s":1222,"a":-0.15,"r":-0.12,"e":0.06},{"s":1227,"a":0.2,"r":0.17,"e":0.14},{"s":1232,"a":-0.45,"r":-0.42,"e":0.01},{"s":1237,"a":0.6,"r":0.57,"e":0.1},{"s":1242,"a":-0.1,"r":-0.08,"e":0.13},{"s":1247,"a":0.35,"r":0.32,"e":0.05},{"s":1252,"a":-0.35,"r":-0.32,"e":0.16},{"s":1257,"a":0.15,"r":0.12,"e":0.02},{"s":1262,"a":-0.5,"r":-0.47,"e":0.09},{"s":1267,"a":0.3,"r":0.27,"e":0.12},{"s":1272,"a":0.05,"r":0.03,"e":0.04},{"s":1277,"a":-0.4,"r":-0.37,"e":0.14},{"s":1282,"a":0.45,"r":0.42,"e":0.07},{"s":1287,"a":-0.2,"r":-0.17,"e":0.11},{"s":1292,"a":0.25,"r":0.22,"e":0.03},{"s":1297,"a":-0.3,"r":-0.27,"e":0.13},
{"s":1302,"a":0.35,"r":0.32,"e":0.05},{"s":1307,"a":-0.2,"r":-0.17,"e":0.12},{"s":1312,"a":0.5,"r":0.47,"e":0.02},{"s":1317,"a":-0.4,"r":-0.37,"e":0.15},{"s":1322,"a":0.1,"r":0.08,"e":0.08},{"s":1327,"a":0.3,"r":0.27,"e":0.04},{"s":1332,"a":-0.5,"r":-0.47,"e":0.13},{"s":1337,"a":0.2,"r":0.17,"e":0.06},{"s":1342,"a":-0.1,"r":-0.08,"e":0.1},{"s":1347,"a":0.6,"r":0.57,"e":0.16},{"s":1352,"a":-0.3,"r":-0.27,"e":0.03},{"s":1357,"a":0.15,"r":0.12,"e":0.11},{"s":1362,"a":-0.45,"r":-0.42,"e":0.07},{"s":1367,"a":0.4,"r":0.37,"e":0.14},{"s":1372,"a":-0.05,"r":-0.03,"e":0.01},{"s":1377,"a":0.25,"r":0.22,"e":0.12},{"s":1382,"a":-0.35,"r":-0.32,"e":0.05},{"s":1387,"a":0.5,"r":0.47,"e":0.09},{"s":1392,"a":-0.15,"r":-0.12,"e":0.15},{"s":1397,"a":0.3,"r":0.27,"e":0.04},
{"s":1402,"a":-0.2,"r":-0.17,"e":0.11},{"s":1407,"a":0.55,"r":0.52,"e":0.02},{"s":1412,"a":-0.1,"r":-0.08,"e":0.14},{"s":1417,"a":0.45,"r":0.42,"e":0.06},{"s":1422,"a":-0.3,"r":-0.27,"e":0.12},{"s":1427,"a":0.2,"r":0.17,"e":0.04},{"s":1432,"a":-0.45,"r":-0.42,"e":0.16},{"s":1437,"a":0.35,"r":0.32,"e":0.08},{"s":1442,"a":0.05,"r":0.03,"e":0.01},{"s":1447,"a":-0.4,"r":-0.37,"e":0.13},{"s":1452,"a":0.6,"r":0.57,"e":0.07},{"s":1457,"a":-0.15,"r":-0.12,"e":0.1},{"s":1462,"a":0.25,"r":0.22,"e":0.15},{"s":1467,"a":-0.5,"r":-0.47,"e":0.03},{"s":1472,"a":0.3,"r":0.27,"e":0.09},{"s":1477,"a":-0.1,"r":-0.08,"e":0.12},{"s":1482,"a":0.4,"r":0.37,"e":0.05},{"s":1487,"a":-0.35,"r":-0.32,"e":0.14},{"s":1492,"a":0.2,"r":0.17,"e":0.02},{"s":1497,"a":-0.25,"r":-0.22,"e":0.1},
{"s":1502,"a":0.3,"r":0.27,"e":0.06},{"s":1507,"a":-0.4,"r":-0.37,"e":0.13},{"s":1512,"a":0.15,"r":0.12,"e":0.03},{"s":1517,"a":-0.2,"r":-0.17,"e":0.11},{"s":1522,"a":0.5,"r":0.47,"e":0.16},{"s":1527,"a":-0.1,"r":-0.08,"e":0.05},{"s":1532,"a":0.35,"r":0.32,"e":0.09},{"s":1537,"a":-0.45,"r":-0.42,"e":0.14},{"s":1542,"a":0.2,"r":0.17,"e":0.02},{"s":1547,"a":0.55,"r":0.52,"e":0.12},{"s":1552,"a":-0.3,"r":-0.27,"e":0.07},{"s":1557,"a":0.1,"r":0.08,"e":0.15},{"s":1562,"a":-0.35,"r":-0.32,"e":0.04},{"s":1567,"a":0.45,"r":0.42,"e":0.1},{"s":1572,"a":-0.15,"r":-0.12,"e":0.13},{"s":1577,"a":0.25,"r":0.22,"e":0.01},{"s":1582,"a":-0.5,"r":-0.47,"e":0.08},{"s":1587,"a":0.05,"r":0.03,"e":0.14},{"s":1592,"a":-0.3,"r":-0.27,"e":0.06},{"s":1597,"a":0.4,"r":0.37,"e":0.11},
{"s":1602,"a":-0.3,"r":-0.27,"e":0.03},{"s":1607,"a":0.25,"r":0.22,"e":0.15},{"s":1612,"a":-0.1,"r":-0.08,"e":0.08},{"s":1617,"a":0.5,"r":0.47,"e":0.12},{"s":1622,"a":-0.35,"r":-0.32,"e":0.02},{"s":1627,"a":0.15,"r":0.12,"e":0.1},{"s":1632,"a":0.4,"r":0.37,"e":0.14},{"s":1637,"a":-0.45,"r":-0.42,"e":0.05},{"s":1642,"a":0.2,"r":0.17,"e":0.11},{"s":1647,"a":-0.25,"r":-0.22,"e":0.16},{"s":1652,"a":0.6,"r":0.57,"e":0.04},{"s":1657,"a":-0.15,"r":-0.12,"e":0.09},{"s":1662,"a":0.3,"r":0.27,"e":0.13},{"s":1667,"a":-0.4,"r":-0.37,"e":0.01},{"s":1672,"a":0.1,"r":0.08,"e":0.12},{"s":1677,"a":-0.55,"r":-0.52,"e":0.07},{"s":1682,"a":0.35,"r":0.32,"e":0.15},{"s":1687,"a":-0.2,"r":-0.17,"e":0.03},{"s":1692,"a":0.45,"r":0.42,"e":0.1},{"s":1697,"a":-0.1,"r":-0.08,"e":0.06},
{"s":1702,"a":0.2,"r":0.17,"e":0.14},{"s":1707,"a":0.45,"r":0.42,"e":0.02},{"s":1712,"a":-0.35,"r":-0.32,"e":0.11},{"s":1717,"a":0.1,"r":0.08,"e":0.07},{"s":1722,"a":-0.5,"r":-0.47,"e":0.15},{"s":1727,"a":0.3,"r":0.27,"e":0.04},{"s":1732,"a":-0.15,"r":-0.12,"e":0.12},{"s":1737,"a":0.55,"r":0.52,"e":0.08},{"s":1742,"a":-0.25,"r":-0.22,"e":0.01},{"s":1747,"a":0.4,"r":0.37,"e":0.13},{"s":1752,"a":-0.3,"r":-0.27,"e":0.06},{"s":1757,"a":0.15,"r":0.12,"e":0.16},{"s":1762,"a":-0.45,"r":-0.42,"e":0.03},{"s":1767,"a":0.2,"r":0.17,"e":0.1},{"s":1772,"a":-0.6,"r":-0.57,"e":0.14},{"s":1777,"a":0.5,"r":0.47,"e":0.05},{"s":1782,"a":-0.1,"r":-0.08,"e":0.12},{"s":1787,"a":0.35,"r":0.32,"e":0.08},{"s":1792,"a":-0.4,"r":-0.37,"e":0.02},{"s":1797,"a":0.25,"r":0.22,"e":0.11},
{"s":1802,"a":0.3,"r":0.27,"e":0.05},{"s":1807,"a":-0.2,"r":-0.17,"e":0.14},{"s":1812,"a":0.15,"r":0.12,"e":0.07},{"s":1817,"a":-0.45,"r":-0.42,"e":0.12},{"s":1822,"a":0.4,"r":0.37,"e":0.02},{"s":1827,"a":-0.1,"r":-0.08,"e":0.1},{"s":1832,"a":0.25,"r":0.22,"e":0.15},{"s":1837,"a":-0.55,"r":-0.52,"e":0.04},{"s":1842,"a":0.35,"r":0.32,"e":0.13},{"s":1847,"a":-0.3,"r":-0.27,"e":0.08},{"s":1852,"a":0.05,"r":0.03,"e":0.11},{"s":1857,"a":-0.4,"r":-0.37,"e":0.01},{"s":1862,"a":0.5,"r":0.47,"e":0.12},{"s":1867,"a":0.2,"r":0.17,"e":0.06},{"s":1872,"a":-0.25,"r":-0.22,"e":0.16},{"s":1877,"a":0.3,"r":0.27,"e":0.03},{"s":1882,"a":-0.5,"r":-0.47,"e":0.09},{"s":1887,"a":0.45,"r":0.42,"e":0.13},{"s":1892,"a":-0.15,"r":-0.12,"e":0.05},{"s":1897,"a":0.2,"r":0.17,"e":0.11},
{"s":1902,"a":-0.25,"r":-0.22,"e":0.12},{"s":1907,"a":0.35,"r":0.32,"e":0.04},{"s":1912,"a":-0.1,"r":-0.08,"e":0.1},{"s":1917,"a":0.5,"r":0.47,"e":0.15},{"s":1922,"a":-0.4,"r":-0.37,"e":0.02},{"s":1927,"a":0.2,"r":0.17,"e":0.13},{"s":1932,"a":-0.15,"r":-0.12,"e":0.07},{"s":1937,"a":0.45,"r":0.42,"e":0.11},{"s":1942,"a":-0.3,"r":-0.27,"e":0.03},{"s":1947,"a":0.1,"r":0.08,"e":0.14},{"s":1952,"a":-0.5,"r":-0.47,"e":0.06},{"s":1957,"a":0.35,"r":0.32,"e":0.12},{"s":1962,"a":0.55,"r":0.52,"e":0.01},{"s":1967,"a":-0.2,"r":-0.17,"e":0.1},{"s":1972,"a":0.15,"r":0.12,"e":0.15},{"s":1977,"a":-0.4,"r":-0.37,"e":0.05},{"s":1982,"a":0.3,"r":0.27,"e":0.12},{"s":1987,"a":-0.1,"r":-0.08,"e":0.08},{"s":1992,"a":0.25,"r":0.22,"e":0.13},{"s":1997,"a":-0.3,"r":-0.27,"e":0.04}
]},
"encoding":{
 "x":{"field":"s","type":"quantitative","scale":{"domain":[0,2000],"nice":false,"zero":false},
  "axis":{"values":[0,200,400,600,800,1000,1200,1400,1600,1800,2000],"labelExpr":"'' + datum.value","title":"sample","titleY":46,"titleBaseline":"alphabetic","labelFlush":false,"labelOverlap":false,"labelPadding":6}}
},
"layer":[
 {"mark":{"type":"line","strokeWidth":1.1,"clip":true},
  "encoding":{
   "y":{"field":"a","type":"quantitative","scale":{"domain":[-2,2],"nice":false,"zero":false},"title":"Error value using LMS Algorithm"},
   "color":{"datum":"--actual signal","type":"nominal",
     "scale":{"domain":["--actual signal","estimeted estimeted signal","error signal"],"range":["#00ff00","#ff0000","#0000ff"]},
     "legend":{"orient":"none","legendX":236,"legendY":10,"title":null}}}},
 {"mark":{"type":"line","strokeWidth":1.1,"clip":true},
  "encoding":{
   "y":{"field":"r","type":"quantitative","title":"Error value using LMS Algorithm"},
   "color":{"datum":"estimeted estimeted signal","type":"nominal"}}},
 {"mark":{"type":"line","strokeWidth":1.4,"clip":true},
  "encoding":{
   "y":{"field":"e","type":"quantitative","title":"Error value using LMS Algorithm"},
   "color":{"datum":"error signal","type":"nominal"}}}
],
"config":{
 "view":{"stroke":null},
 "axis":{"domainColor":"black","domainWidth":1,"grid":true,"gridColor":"#000000","gridDash":[7,5],"gridOpacity":0.85,"gridWidth":1,"ticks":false,"labelFont":"Liberation Sans","labelFontSize":13,"labelColor":"black","titleFont":"Liberation Sans","titleFontSize":16.5,"titleFontWeight":"normal","titleColor":"black"},
 "axisY":{"values":[-2,-1.5,-1,-0.5,0,0.5,1,1.5,2],"labelExpr":"'' + datum.value","labelPadding":7,"titleX":-42,"titleY":208,"titleAlign":"center","titleBaseline":"middle","titleAngle":270,"labelFlush":false,"labelOverlap":false},
 "legend":{"fillColor":"white","strokeColor":"black","padding":8,"symbolType":"M-1,0H5","symbolSize":205,"symbolStrokeWidth":1,"labelFont":"Liberation Sans","labelFontSize":14.5,"labelColor":"black","labelOffset":34,"rowPadding":8,"cornerRadius":0,"labelLimit":400}
}
}
